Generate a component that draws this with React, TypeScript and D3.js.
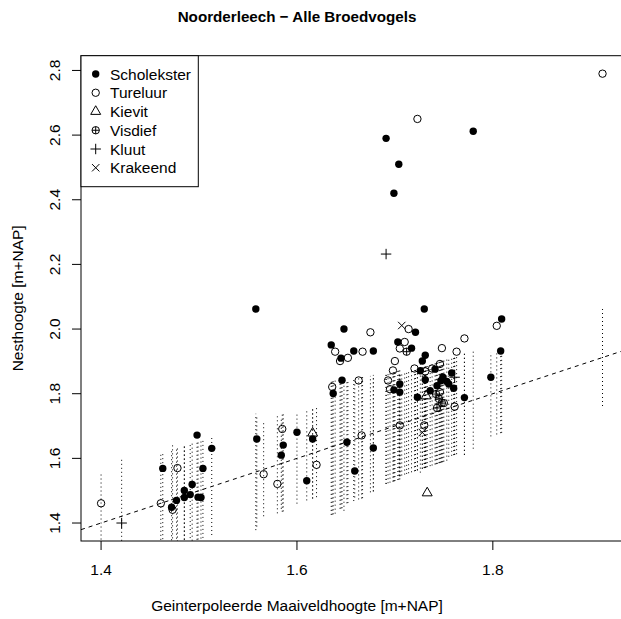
import React from "react";
import * as d3 from "d3";

type Rec = [number, number, number]; // [maaiveld x, nesthoogte y, half range of dotted segment]

const scholekster: Rec[] = [
  [1.463,1.569,0.15],[1.472,1.449,0.15],[1.477,1.470,0.15],[1.485,1.501,0.15],[1.485,1.479,0.16],
  [1.491,1.488,0.15],[1.493,1.519,0.16],[1.498,1.672,0.15],[1.499,1.480,0.15],[1.502,1.479,0.15],
  [1.504,1.569,0.15],[1.513,1.631,0.15],[1.558,2.062,0.18],[1.559,1.660,0.17],[1.586,1.641,0.15],
  [1.584,1.610,0.14],[1.600,1.681,0.14],[1.610,1.531,0.14],[1.616,1.660,0.14],[1.651,1.650,0.19],
  [1.659,1.561,0.18],[1.678,1.632,0.18],[1.635,1.951,0.21],[1.645,1.910,0.2],[1.648,2.000,0.21],
  [1.658,1.932,0.19],[1.678,1.932,0.18],[1.646,1.842,0.2],[1.637,1.801,0.21],[1.699,1.812,0.17],
  [1.705,1.830,0.17],[1.705,1.805,0.16],[1.703,1.960,0.17],[1.717,1.941,0.16],[1.721,1.990,0.16],
  [1.730,2.062,0.16],[1.731,1.919,0.16],[1.728,1.901,0.16],[1.726,1.871,0.17],[1.731,1.843,0.16],
  [1.723,1.789,0.16],[1.741,1.876,0.16],[1.736,1.809,0.16],[1.743,1.825,0.16],[1.747,1.840,0.16],
  [1.749,1.851,0.16],[1.753,1.838,0.16],[1.755,1.830,0.15],[1.760,1.817,0.15],[1.758,1.864,0.15],
  [1.771,1.788,0.16],[1.809,2.031,0.13],[1.808,1.932,0.13],[1.798,1.851,0.13],[1.691,2.590,0.17],
  [1.780,2.612,0.15],[1.704,2.510,0.17],[1.699,2.420,0.17],
];
const tureluur: Rec[] = [
  [1.400,1.461,0.15],[1.461,1.461,0.15],[1.478,1.570,0.16],[1.473,1.441,0.17],[1.566,1.551,0.145],
  [1.580,1.521,0.15],[1.585,1.691,0.15],[1.620,1.580,0.14],[1.666,1.671,0.19],[1.639,1.930,0.21],
  [1.644,1.901,0.2],[1.652,1.911,0.19],[1.667,1.930,0.19],[1.675,1.990,0.18],[1.636,1.821,0.21],
  [1.663,1.841,0.19],[1.693,1.841,0.17],[1.695,1.814,0.17],[1.698,1.872,0.17],[1.700,1.901,0.17],
  [1.705,1.940,0.16],[1.710,1.960,0.16],[1.714,2.000,0.16],[1.720,1.878,0.16],[1.731,1.869,0.16],
  [1.705,1.702,0.16],[1.730,1.702,0.16],[1.738,1.878,0.16],[1.746,1.892,0.16],[1.748,1.941,0.16],
  [1.763,1.930,0.15],[1.750,1.771,0.16],[1.746,1.805,0.16],[1.761,1.760,0.15],[1.771,1.971,0.16],
  [1.804,2.010,0.13],[1.912,2.790,0.15],[1.723,2.650,0.16],
];
const kievit: Rec[] = [[1.616,1.678,0.14],[1.732,1.793,0.16],[1.733,1.493,0.16]];
const visdief: Rec[] = [[1.712,1.930,0.16],[1.742,1.799,0.16],[1.748,1.771,0.16],[1.745,1.784,0.16],[1.743,1.756,0.16]];
const kluut: Rec[] = [[1.421,1.400,0.175],[1.691,2.232,0.17],[1.761,1.851,0.15]];
const krakeend: Rec[] = [[1.707,2.011,0.16],[1.728,1.680,0.16]];

const speciesNames = ["Scholekster", "Tureluur", "Kievit", "Visdief", "Kluut", "Krakeend"];
const speciesSymbols = ["filled", "circle", "triangle", "circleplus", "plus", "cross"];
const speciesData = [scholekster, tureluur, kievit, visdief, kluut, krakeend];

const xTicks = [1.4, 1.6, 1.8];
const yTicks = [1.4, 1.6, 1.8, 2.0, 2.2, 2.4, 2.6, 2.8];
const xDomain = [1.3795, 1.9325];
const yDomain = [1.3444, 2.8456];

const title = "Noorderleech \u2212 Alle Broedvogels";
const xLabel = "Geinterpoleerde Maaiveldhoogte [m+NAP]";
const yLabel = "Nesthoogte [m+NAP]";

const W = 621, H = 619;
const L = 81, R = 622.6, T = 55.7, B = 541;
const FONT = "'Liberation Sans', Arial, Helvetica, sans-serif";
const FS = 15.5;
const RAD = 3.7;

function Symbol({ type, cx, cy }: { type: string; cx: number; cy: number }) {
  const r = RAD;
  const st = { stroke: "#000", strokeWidth: 1, fill: "none" };
  if (type === "filled") return <circle cx={cx} cy={cy} r={r} fill="#000" />;
  if (type === "circle") return <circle cx={cx} cy={cy} r={r} {...st} />;
  if (type === "triangle") {
    const rr = 1.555 * r, xc = 1.347 * r, yc = 0.778 * r;
    return <path d={`M${cx},${cy - rr}L${cx + xc},${cy + yc}L${cx - xc},${cy + yc}Z`} {...st} />;
  }
  if (type === "circleplus")
    return (
      <g {...st}>
        <circle cx={cx} cy={cy} r={r} />
        <path d={`M${cx - r},${cy}H${cx + r}M${cx},${cy - r}V${cy + r}`} />
      </g>
    );
  if (type === "plus") {
    const a = 1.414 * r;
    return <path d={`M${cx - a},${cy}H${cx + a}M${cx},${cy - a}V${cy + a}`} {...st} />;
  }
  const a = r;
  return <path d={`M${cx - a},${cy - a}L${cx + a},${cy + a}M${cx - a},${cy + a}L${cx + a},${cy - a}`} {...st} />;
}

export default function App() {
  const x = d3.scaleLinear().domain(xDomain).range([L, R]);
  const y = d3.scaleLinear().domain(yDomain).range([B, T]);
  const fmt = d3.format(".1f");
  const cxMid = 297;
  const cyMid = (T + B) / 2;
  const diag = d3.line<number>().x((v) => x(v)).y((v) => y(v));

  return (
    <div style={{ position: "absolute", left: 0, top: 0, width: W, height: H, background: "#fff" }}>
      <svg width={W} height={H} style={{ display: "block", fontFamily: FONT }}>
        <rect width={W} height={H} fill="#fff" />
        <defs>
          <clipPath id="plotclip">
            <rect x={L} y={T} width={R - L} height={B - T} />
          </clipPath>
        </defs>
        <g clipPath="url(#plotclip)">
          {speciesData.map((arr, si) =>
            arr.map((d, i) => (
              <line
                key={`r${si}-${i}`}
                x1={x(d[0])}
                x2={x(d[0])}
                y1={y(d[0] - d[2])}
                y2={y(d[0] + d[2])}
                stroke="#000"
                strokeWidth={1}
                strokeDasharray="1,3"
              />
            ))
          )}
          <path d={diag(xDomain) || ""} stroke="#000" strokeWidth={1} strokeDasharray="4,4" fill="none" />
          {speciesData.map((arr, si) =>
            arr.map((d, i) => <Symbol key={`p${si}-${i}`} type={speciesSymbols[si]} cx={x(d[0])} cy={y(d[1])} />)
          )}
        </g>
        <rect x={L} y={T} width={R - L} height={B - T} fill="none" stroke="#000" strokeWidth={1} />
        {xTicks.map((t) => (
          <g key={`xt${t}`}>
            <line x1={x(t)} x2={x(t)} y1={B} y2={B + 9} stroke="#000" />
            <text x={x(t)} y={575} textAnchor="middle" fontSize={FS}>
              {fmt(t)}
            </text>
          </g>
        ))}
        {yTicks.map((t) => (
          <g key={`yt${t}`}>
            <line x1={L - 9} x2={L} y1={y(t)} y2={y(t)} stroke="#000" />
            <text transform={`translate(60,${y(t)}) rotate(-90)`} textAnchor="middle" fontSize={FS}>
              {fmt(t)}
            </text>
          </g>
        ))}
        <text x={cxMid} y={22} textAnchor="middle" fontSize={15.2} fontWeight="bold">
          {title}
        </text>
        <text x={cxMid} y={611} textAnchor="middle" fontSize={FS}>
          {xLabel}
        </text>
        <text transform={`translate(22.5,${cyMid}) rotate(-90)`} textAnchor="middle" fontSize={FS}>
          {yLabel}
        </text>
        <g>
          <rect x={L} y={T} width={198.3 - L} height={186.7 - T} fill="#fff" stroke="#000" strokeWidth={1} />
          {speciesNames.map((n, i) => {
            const cy = 74 + i * 18.75;
            return (
              <g key={n}>
                <Symbol type={speciesSymbols[i]} cx={95.7} cy={cy} />
                <text x={110} y={cy + 5.5} fontSize={FS}>
                  {n}
                </text>
              </g>
            );
          })}
        </g>
      </svg>
    </div>
  );
}
